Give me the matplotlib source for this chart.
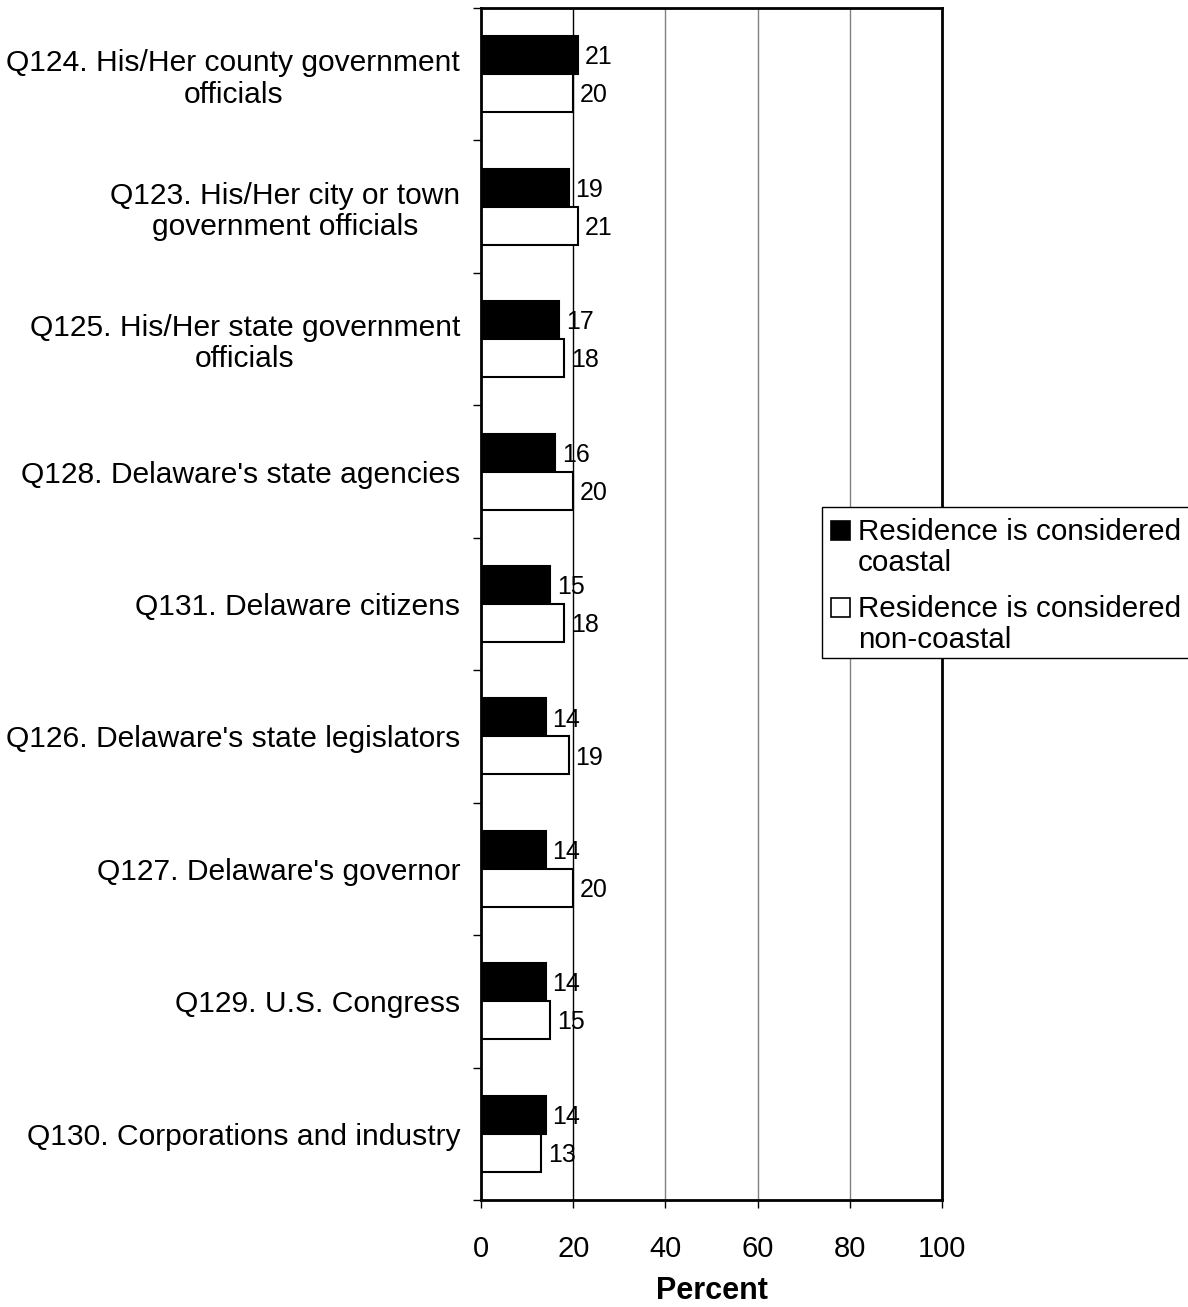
import matplotlib
matplotlib.use("Agg")
import matplotlib.pyplot as plt
from matplotlib.patches import Rectangle
import numpy as np

plt.rcParams['font.family'] = ['Liberation Sans', 'DejaVu Sans']

categorias = [
    "Q124. His/Her county government\nofficials",
    "Q123. His/Her city or town\ngovernment officials",
    "Q125. His/Her state government\nofficials",
    "Q128. Delaware's state agencies",
    "Q131. Delaware citizens",
    "Q126. Delaware's state legislators",
    "Q127. Delaware's governor",
    "Q129. U.S. Congress",
    "Q130. Corporations and industry",
]
costera = [21, 19, 17, 16, 15, 14, 14, 14, 14]
no_costera = [20, 21, 18, 20, 18, 19, 20, 15, 13]
series = ["Residence is considered\ncoastal", "Residence is considered\nnon-coastal"]
xticks = [0, 20, 40, 60, 80, 100]

W, H = 1188, 1307
fig = plt.figure(figsize=(W / 100, H / 100), dpi=100)
ax = fig.add_axes([481 / W, 1 - 1200 / H, (942 - 481) / W, (1200 - 8) / H])

y = np.arange(len(categorias))
alto = 0.287

for gx in xticks[1:-1]:
    ax.axvline(gx, color='black' if gx == 20 else '#808080', lw=1, zorder=0)

b1 = ax.barh(y - alto / 2, costera, height=alto, color='black', edgecolor='black',
             lw=1.5, zorder=2)
b2 = ax.barh(y + alto / 2, no_costera, height=alto, color='white', edgecolor='black',
             lw=1.5, zorder=2)

for barras, vals in ((b1, costera), (b2, no_costera)):
    for b, v in zip(barras, vals):
        ax.annotate(str(v), (v, b.get_y() + b.get_height() / 2), xytext=(5, -1.5),
                    textcoords='offset points', va='center', ha='left', fontsize=18, zorder=3)

ax.set_xlim(0, 100)
ax.set_ylim(len(categorias) - 0.5, -0.5)
ax.set_xticks(xticks)
ax.tick_params(axis='x', labelsize=21, length=6, width=1, pad=19)

ax.set_yticks(y)
ax.set_yticklabels(categorias, fontsize=21.6)
for lab in ax.get_yticklabels():
    lab.set_multialignment('center')
    lab.set_linespacing(1.15)
ax.tick_params(axis='y', length=0, pad=15)
ax.set_yticks(np.arange(-0.5, len(categorias), 1), minor=True)
ax.tick_params(axis='y', which='minor', length=6, width=1)

for s in ax.spines.values():
    s.set_linewidth(2)

ax.set_xlabel("Percent", fontsize=22, fontweight='bold')
ax.xaxis.label.set_va('center')
ax.xaxis.set_label_coords(0.5, -91 / 1192)

# leyenda hecha a mano (cuadro a la izquierda de la primera linea)
fig.patches.append(Rectangle((822 / W, 1 - 658 / H), 400 / W, 151 / H, transform=fig.transFigure,
                             facecolor='white', edgecolor='black', lw=1, zorder=5))
for i, (txt, fc) in enumerate(zip(series, ['black', 'white'])):
    top = 521 + i * 77
    fig.patches.append(Rectangle((831 / W, 1 - (top + 19) / H), 19 / W, 19 / H,
                                 transform=fig.transFigure, facecolor=fc,
                                 edgecolor='black', lw=1.2, zorder=6))
    fig.text(858 / W, 1 - (top - 3) / H, txt, fontsize=21.3, va='top', ha='left',
             linespacing=1.12, zorder=7)

fig.savefig("out.png", dpi=100)
